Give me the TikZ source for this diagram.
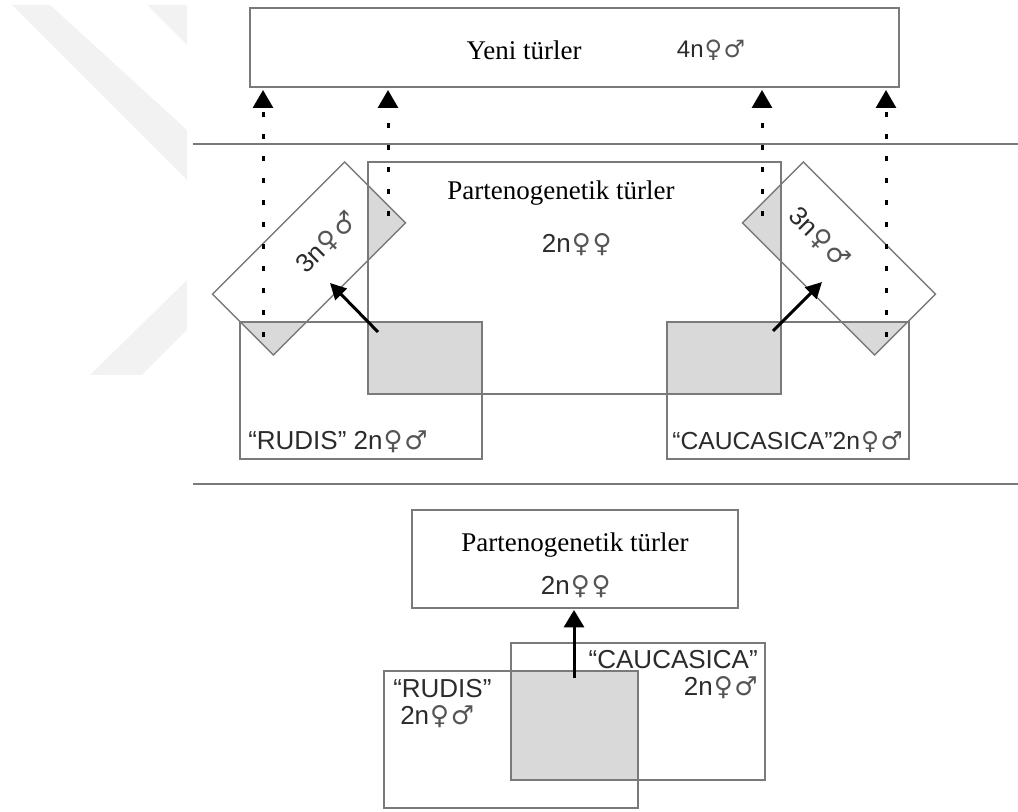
\documentclass[tikz,border=0pt]{standalone}
\usepackage{fontspec}
\setmainfont{Liberation Serif}
\newfontfamily\sansf{Liberation Sans}
\newfontfamily\symf{DejaVu Sans}
\usetikzlibrary{arrows.meta,backgrounds}
\newcommand\pxu{0.75pt}
\definecolor{edge}{HTML}{7A7A7A}
\definecolor{overlapgray}{HTML}{D9D9D9}
\definecolor{wm}{HTML}{F2F2F2}
\definecolor{ink}{HTML}{2B2B2B}
\definecolor{symink}{HTML}{555555}
\newcommand\fem{{\symf\color{symink}\kern0.04em♀\kern0.02em}}
\newcommand\mal{{\symf\color{symink}\kern0.04em♂}}
\begin{document}
\begin{tikzpicture}[x=0.75pt,y=-0.75pt,
  box/.style={draw=edge,line width=1.05pt,inner sep=0pt,outer sep=0pt},
  rule/.style={draw=edge,line width=1.2pt},
  seriftext/.style={font=\fontsize{20.25}{24}\selectfont,text=black,inner sep=0pt},
  sanstext/.style={font=\sansf\fontsize{19.5}{23}\selectfont,text=ink,inner sep=0pt},
  dots/.style={line width=2.25pt,dash pattern=on 3.75pt off 12.75pt,
    -{Triangle[length=13.5pt,width=15pt]},shorten >=2.25pt},
  push/.style={line width=2.25pt,-{Triangle[length=12pt,width=12pt]}}]
\useasboundingbox (0,0) rectangle (1018,812);

% boxes
\node[box,minimum width=649*\pxu,minimum height=79*\pxu] (yt) at (574.5,47.5) {};
\node[box,minimum width=413*\pxu,minimum height=232*\pxu] (pm) at (574.5,278) {};
\node[box,minimum width=242*\pxu,minimum height=137*\pxu] (rm) at (361,390.5) {};
\node[box,minimum width=242*\pxu,minimum height=137*\pxu] (cm) at (788,390.5) {};
\node[box,rotate=45,minimum width=187*\pxu,minimum height=86*\pxu] (lr) at (309,258.5) {};
\node[box,rotate=-45,minimum width=187*\pxu,minimum height=86*\pxu] (rr) at (839,258.5) {};
\node[box,minimum width=326*\pxu,minimum height=98*\pxu] (pb) at (575,559) {};
\node[box,minimum width=254*\pxu,minimum height=137*\pxu] (cb) at (638,711.5) {};
\node[box,minimum width=254*\pxu,minimum height=137*\pxu] (rb) at (511,739.5) {};

% background: watermark and shaded overlaps
\begin{scope}[on background layer]
  \fill[wm] (12,5) -- (50,5) -- (187,130) -- (187,180) -- cycle;
  \fill[wm] (147,5) -- (187,5) -- (187,45) -- cycle;
  \fill[wm] (187,280) -- (90,375) -- (142,375) -- (187,330) -- cycle;
  \begin{scope}
    \clip (pm.south west) rectangle (pm.north east);
    \fill[overlapgray] (rm.south west) rectangle (rm.north east);
    \fill[overlapgray] (cm.south west) rectangle (cm.north east);
    \fill[overlapgray] (lr.north west) -- (lr.north east) -- (lr.south east) -- (lr.south west) -- cycle;
    \fill[overlapgray] (rr.north west) -- (rr.north east) -- (rr.south east) -- (rr.south west) -- cycle;
  \end{scope}
  \begin{scope}
    \clip (rm.south west) rectangle (rm.north east);
    \fill[overlapgray] (lr.north west) -- (lr.north east) -- (lr.south east) -- (lr.south west) -- cycle;
  \end{scope}
  \begin{scope}
    \clip (cm.south west) rectangle (cm.north east);
    \fill[overlapgray] (rr.north west) -- (rr.north east) -- (rr.south east) -- (rr.south west) -- cycle;
  \end{scope}
  \begin{scope}
    \clip (rb.south west) rectangle (rb.north east);
    \fill[overlapgray] (cb.south west) rectangle (cb.north east);
  \end{scope}
\end{scope}

% separator rules
\coordinate (l1a) at (193,144); \coordinate (l1b) at (1018,144);
\coordinate (l2a) at (193,484); \coordinate (l2b) at (1018,484);
\draw[rule] (l1a) -- (l1b);
\draw[rule] (l2a) -- (l2b);

% texts
\node[seriftext] (t1) at (524,50) {Yeni türler};
\node[sanstext,font=\sansf\fontsize{18}{21}\selectfont] (t2) at (711,50) {4n\fem\mal};
\node[seriftext] (t3) at (561,193) {Partenogenetik türler};
\node[sanstext] (t4) at (577,245) {2n\fem\fem};
\node[sanstext,rotate=45] (t5) at (327,243) {3n\fem\mal};
\node[sanstext,rotate=-45] (t6) at (819,238) {3n\fem\mal};
\node[sanstext,anchor=base west] (t7) at (248,450) {“RUDIS” 2n\fem\mal};
\node[sanstext,font=\sansf\fontsize{18.5}{22}\selectfont,anchor=base east] (t8) at (903,450) {“CAUCASICA”2n\fem\mal};
\node[seriftext] (t9) at (575,545) {Partenogenetik türler};
\node[sanstext] (t10) at (576,587) {2n\fem\fem};
\node[sanstext,anchor=west] (t11) at (393,689) {“RUDIS”};
\node[sanstext,anchor=west] (t12) at (400,717) {2n\fem\mal};
\node[sanstext,anchor=east] (t13) at (758,660) {“CAUCASICA”};
\node[sanstext,anchor=east] (t14) at (758,688) {2n\fem\mal};

% dotted arrows to the new species
\coordinate (d1) at (263,337);
\coordinate (d2) at (388,216);
\coordinate (d3) at (762,216);
\coordinate (d4) at (886,337);
\draw[dots] (d1) -- (d1 |- yt.south);
\draw[dots] (d2) -- (d2 |- yt.south);
\draw[dots] (d3) -- (d3 |- yt.south);
\draw[dots] (d4) -- (d4 |- yt.south);

% solid arrows
\coordinate (a1s) at (378,332); \coordinate (a1e) at (330,283);
\coordinate (a2s) at (773,331); \coordinate (a2e) at (822,282);
\coordinate (a3s) at (574,678);
\draw[push] (a1s) -- (a1e);
\draw[push] (a2s) -- (a2e);
\draw[push,-{Triangle[length=13pt,width=15pt]},shorten >=1.5pt] (a3s) -- (a3s |- pb.south);
\end{tikzpicture}
\end{document}
